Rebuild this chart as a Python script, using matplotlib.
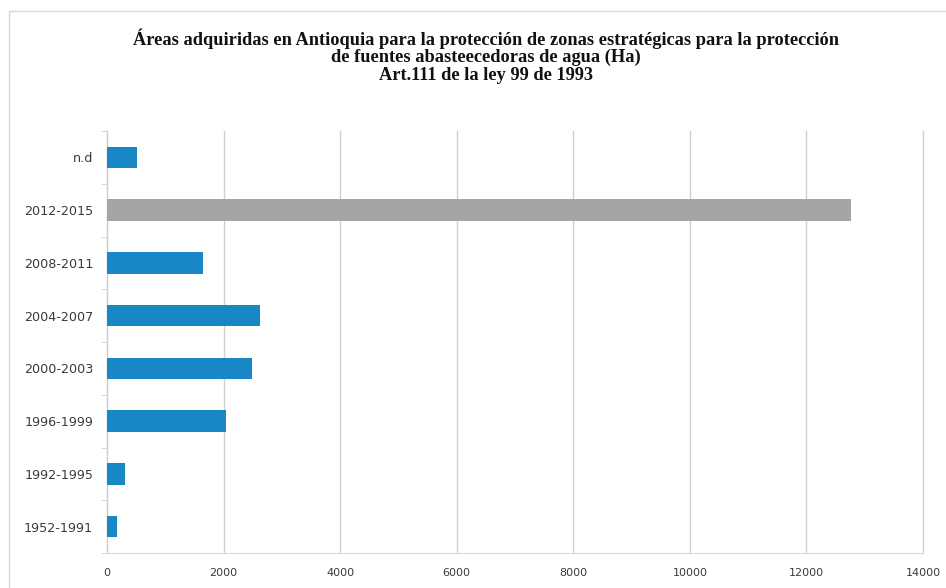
import matplotlib
matplotlib.use("Agg")
import matplotlib.pyplot as plt
from matplotlib.patches import Rectangle

# Hectares acquired per period (bottom to top)
periodos = ["1952-1991", "1992-1995", "1996-1999", "2000-2003",
            "2004-2007", "2008-2011", "2012-2015", "n.d"]
hectareas = [166, 308, 2050, 2490, 2622, 1650, 12770, 520]
colores = ["#1787C6"] * 6 + ["#A5A5A5"] + ["#1787C6"]

x_ticks = [0, 2000, 4000, 6000, 8000, 10000, 12000, 14000]

titulo = ["Áreas adquiridas en Antioquia para la protección de zonas estratégicas para la protección",
          "de fuentes abasteecedoras de agua (Ha)",
          "Art.111 de la ley 99 de 1993"]

fig = plt.figure(figsize=(9.46, 5.88), dpi=100)
W, H = 946, 588

# chart-area border
fig.patches.append(Rectangle((9 / W, -0.1), 1.2, 1 + 0.1 - 11 / H,
                             transform=fig.transFigure, fill=False,
                             edgecolor="#D9D9D9", linewidth=1.0))

ax = fig.add_axes([107 / W, 1 - 553 / H, (923 - 107) / W, (553 - 131) / H])
y = range(len(periodos))
ax.barh(y, hectareas, height=0.41, color=colores, zorder=3)

ax.set_xlim(0, 14000)
ax.set_ylim(-0.5, len(periodos) - 0.5)
ax.set_xticks(x_ticks)
ax.set_xticklabels([str(t) for t in x_ticks], fontfamily="DejaVu Sans",
                   fontsize=8, color="#3A3A3A")
ax.set_yticks(list(y))
ax.set_yticklabels(periodos, fontfamily="DejaVu Sans", fontsize=9.2, color="#3A3A3A")
ax.tick_params(axis="x", length=0, pad=11)
ax.tick_params(axis="y", length=0, pad=10)
# minor ticks between categories on the category axis
ax.set_yticks([i - 0.5 for i in range(len(periodos) + 1)], minor=True)
ax.tick_params(axis="y", which="minor", length=4, color="#D0D0D0", direction="out")

ax.grid(axis="x", color="#D0D0D0", linewidth=1.0, zorder=0)
for gl in ax.get_xgridlines():
    gl.set_clip_on(False)
for s in ["top", "right"]:
    ax.spines[s].set_visible(False)
ax.spines["left"].set_color("#D0D0D0")
ax.spines["bottom"].set_color("#D9D9D9")

for linea, yc in zip(titulo, [39, 57.5, 76]):
    fig.text(486 / W, 1 - yc / H, linea, ha="center", va="center",
             fontfamily="Liberation Serif", fontweight="bold", fontsize=13.2,
             color="#111111")

fig.savefig("out.png", dpi=100)
